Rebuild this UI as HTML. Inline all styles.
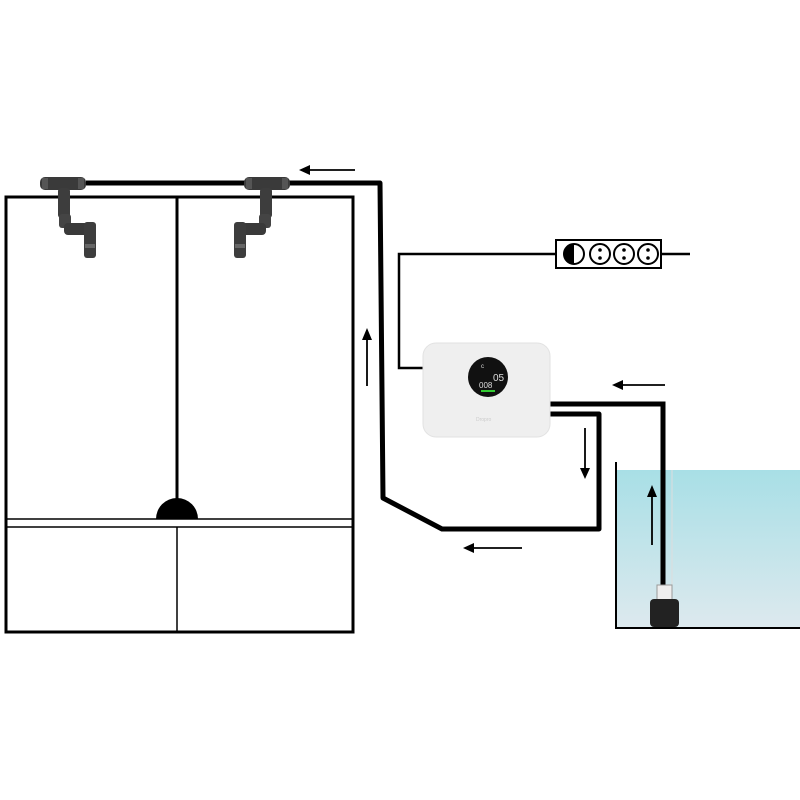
<!DOCTYPE html><html><head><style>body{margin:0;background:#fff}svg{display:block}</style></head><body>
<svg width="800" height="800" viewBox="0 0 800 800" xmlns="http://www.w3.org/2000/svg">
<defs>
<linearGradient id="w" x1="0" y1="0" x2="0" y2="1"><stop offset="0" stop-color="#a8dfe6"/><stop offset="1" stop-color="#dde9ee"/></linearGradient>
<g id="fit">
<rect x="0" y="7" width="46" height="13" rx="5" fill="#3a3a3a"/>
<rect x="2" y="8" width="6" height="11" fill="#555"/><rect x="38" y="8" width="6" height="11" fill="#555"/>
<rect x="18" y="18" width="12" height="30" rx="3" fill="#3d3d3d"/>
<rect x="19" y="44" width="12" height="14" rx="3" fill="#444"/>
<rect x="24" y="53" width="28" height="12" rx="4" fill="#3a3a3a"/>
<rect x="44" y="52" width="12" height="36" rx="3" fill="#3d3d3d"/>
<rect x="45" y="74" width="10" height="4" fill="#666"/>
</g>
</defs>
<rect width="800" height="800" fill="#fff"/>
<!-- cabinet -->
<rect x="6" y="197" width="347" height="435" fill="none" stroke="#000" stroke-width="3"/>
<line x1="177" y1="197" x2="177" y2="505" stroke="#000" stroke-width="3"/>
<line x1="6" y1="519" x2="353" y2="519" stroke="#000" stroke-width="1.5"/>
<line x1="6" y1="527" x2="353" y2="527" stroke="#000" stroke-width="1.5"/>
<line x1="177" y1="527" x2="177" y2="632" stroke="#000" stroke-width="1.5"/>
<path d="M156 519 A21 21 0 0 1 198 519 Z" fill="#000"/>
<!-- tank -->
<rect x="616" y="470" width="184" height="157" fill="url(#w)"/>
<polyline points="616,462 616,628 800,628" fill="none" stroke="#000" stroke-width="2"/>
<line x1="672" y1="470" x2="672" y2="590" stroke="#ddd" stroke-width="1"/>
<!-- pipes -->
<polyline points="86,183 380,183 383,498 442,529 599,529 599,414 548,414" fill="none" stroke="#000" stroke-width="5" stroke-linejoin="round"/>
<polyline points="548,404 663,404 663,588" fill="none" stroke="#000" stroke-width="5"/>
<rect x="657" y="585" width="15" height="15" fill="#eee" stroke="#999"/>
<rect x="650" y="599" width="29" height="28" rx="4" fill="#222"/>
<use href="#fit" x="40" y="170"/>
<g transform="translate(290,0) scale(-1,1)"><use href="#fit" x="0" y="170"/></g>
<!-- power -->
<polyline points="423,368 399,368 399,254 556,254" fill="none" stroke="#000" stroke-width="2.5"/>
<line x1="661" y1="254" x2="690" y2="254" stroke="#000" stroke-width="2.5"/>
<rect x="556" y="240" width="105" height="28" fill="#fff" stroke="#000" stroke-width="2"/>
<circle cx="574" cy="254" r="10" fill="#fff" stroke="#000" stroke-width="2"/><path d="M574 244 A10 10 0 0 0 574 264 Z" fill="#000"/>
<g fill="#fff" stroke="#000" stroke-width="2"><circle cx="600" cy="254" r="10"/><circle cx="624" cy="254" r="10"/><circle cx="648" cy="254" r="10"/></g>
<g fill="#000"><circle cx="600" cy="250" r="1.8"/><circle cx="600" cy="258" r="1.8"/><circle cx="624" cy="250" r="1.8"/><circle cx="624" cy="258" r="1.8"/><circle cx="648" cy="250" r="1.8"/><circle cx="648" cy="258" r="1.8"/></g>
<!-- controller -->
<rect x="423" y="343" width="127" height="94" rx="13" fill="#efefef" stroke="#e2e2e2"/>
<circle cx="488" cy="377" r="20" fill="#111"/>
<text x="493" y="381" font-family="Liberation Sans,sans-serif" font-size="10" fill="#ddd">05</text>
<text x="479" y="388" font-family="Liberation Sans,sans-serif" font-size="8" fill="#ddd">008</text>
<rect x="481" y="390" width="14" height="2" fill="#3c3"/>
<text x="481" y="368" font-family="Liberation Sans,sans-serif" font-size="6" fill="#ddd">c</text>
<text x="476" y="421" font-family="Liberation Sans,sans-serif" font-size="5" fill="#ccc">Dropro</text>
<!-- arrows -->
<g stroke="#000" stroke-width="1.8" fill="#000">
<line x1="310" y1="170" x2="355" y2="170"/><path d="M299 170 l11 -5 v10z" stroke="none"/>
<line x1="367" y1="340" x2="367" y2="386"/><path d="M367 328 l-5 12 h10z" stroke="none"/>
<line x1="623" y1="385" x2="665" y2="385"/><path d="M612 385 l11 -5 v10z" stroke="none"/>
<line x1="585" y1="428" x2="585" y2="468"/><path d="M585 479 l-5 -11 h10z" stroke="none"/>
<line x1="652" y1="497" x2="652" y2="545"/><path d="M652 485 l-5 12 h10z" stroke="none"/>
<line x1="474" y1="548" x2="522" y2="548"/><path d="M463 548 l11 -5 v10z" stroke="none"/>
</g>
</svg>
</body></html>
